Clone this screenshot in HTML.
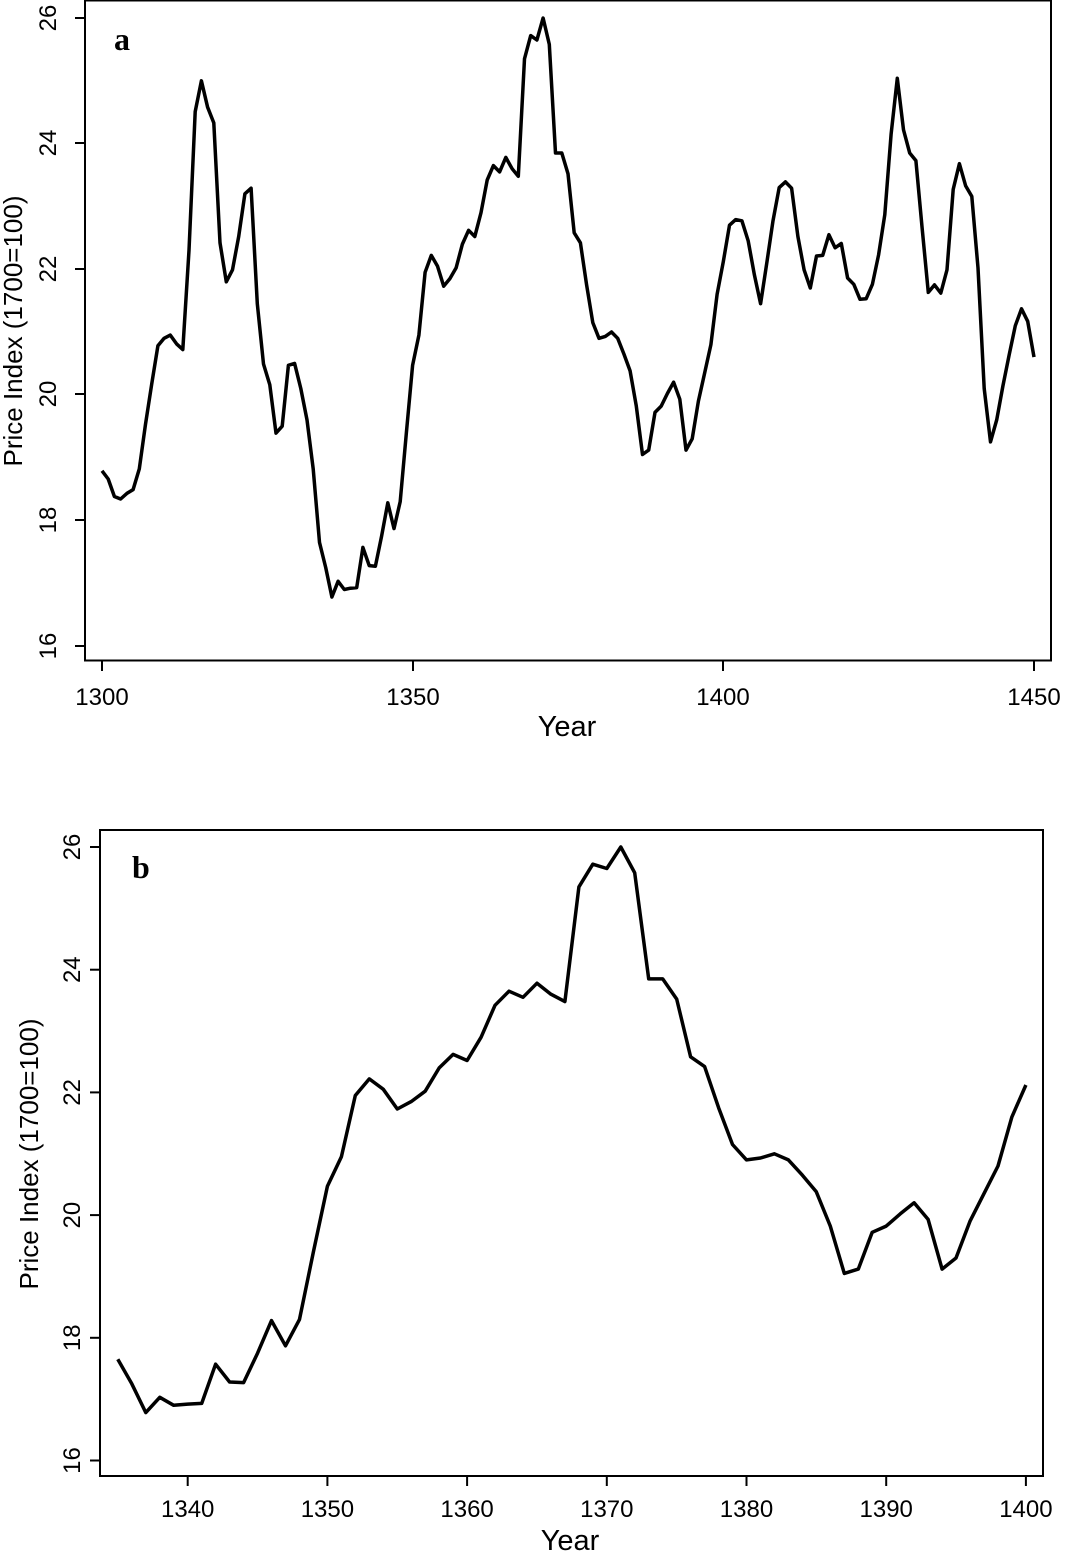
<!DOCTYPE html>
<html><head><meta charset="utf-8"><style>
html,body{margin:0;padding:0;background:#fff;}
svg{display:block;font-family:"Liberation Sans",Arial,sans-serif;}
</style></head><body>
<svg id="s" width="1065" height="1553" viewBox="0 0 1065 1553" xmlns="http://www.w3.org/2000/svg">
<!-- Panel a -->
<rect x="85" y="0.5" width="966" height="660" fill="none" stroke="#000" stroke-width="2"/>
<text x="114" y="50" font-family="Liberation Serif,serif" font-weight="bold" font-size="32">a</text>
<g stroke="#000" stroke-width="2">
<line x1="85" x2="75" y1="18" y2="18"/><line x1="85" x2="75" y1="143" y2="143"/><line x1="85" x2="75" y1="269" y2="269"/>
<line x1="85" x2="75" y1="394" y2="394"/><line x1="85" x2="75" y1="520" y2="520"/><line x1="85" x2="75" y1="646" y2="646"/>
<line x1="102" x2="102" y1="661" y2="671"/><line x1="413" x2="413" y1="661" y2="671"/><line x1="723" x2="723" y1="661" y2="671"/><line x1="1034" x2="1034" y1="661" y2="671"/>
</g>
<g font-size="24" text-anchor="middle">
<text transform="translate(56,18) rotate(-90)">26</text>
<text transform="translate(56,143) rotate(-90)">24</text>
<text transform="translate(56,269) rotate(-90)">22</text>
<text transform="translate(56,394) rotate(-90)">20</text>
<text transform="translate(56,520) rotate(-90)">18</text>
<text transform="translate(56,646) rotate(-90)">16</text>
<text x="102" y="705">1300</text><text x="413" y="705">1350</text><text x="723" y="705">1400</text><text x="1034" y="705">1450</text>
<text x="567" y="736" font-size="29">Year</text>
<text transform="translate(22,331) rotate(-90)" font-size="26">Price Index (1700=100)</text>
</g>
<polyline id="pa" fill="none" stroke="#000" stroke-width="3.5" stroke-linejoin="round"/>
<!-- Panel b -->
<rect x="100" y="830" width="943" height="646" fill="none" stroke="#000" stroke-width="2"/>
<text x="132" y="878" font-family="Liberation Serif,serif" font-weight="bold" font-size="32">b</text>
<g id="tb" stroke="#000" stroke-width="2"></g>
<g id="lb" font-size="24" text-anchor="middle"></g>
<g font-size="26" text-anchor="middle">
<text x="570" y="1550" font-size="29">Year</text>
<text transform="translate(38,1154) rotate(-90)">Price Index (1700=100)</text>
</g>
<polyline id="pb" fill="none" stroke="#000" stroke-width="3.5" stroke-linejoin="round"/>
</svg>
<script>
var A1=[18.79,18.66,18.38,18.34,18.43,18.49,18.82,19.53,20.17,20.78,20.9,20.95,20.81,20.72,22.3,24.51,25.0,24.58,24.33,22.42,21.8,21.99,22.52,23.2,23.29,21.45,20.49,20.16,19.39,19.5,20.47,20.5,20.1,19.6,18.82];
var B=[17.65,17.25,16.78,17.03,16.9,16.92,16.93,17.57,17.28,17.27,17.75,18.28,17.87,18.3,19.4,20.47,20.95,21.95,22.22,22.05,21.73,21.85,22.02,22.4,22.62,22.52,22.9,23.42,23.65,23.55,23.78,23.6,23.48,25.35,25.72,25.65,26.0,25.58,23.85,23.85,23.52,22.58,22.42,21.75,21.15,20.9,20.93,21.0,20.9,20.65,20.38,19.82,19.05,19.12,19.72,19.82,20.02,20.2,19.93,19.12,19.3,19.9,20.35,20.8,21.6,22.12];
var A3=[22.7,22.79,22.77,22.45,21.91,21.45,22.1,22.77,23.3,23.39,23.29,22.52,21.99,21.7,22.21,22.22,22.55,22.34,22.41,21.86,21.76,21.52,21.53,21.76,22.23,22.87,24.15,25.04,24.22,23.85,23.73,22.66,21.63,21.75,21.62,21.99,23.27,23.68,23.33,23.16,22.02,20.1,19.25,19.6,20.14,20.63,21.1,21.37,21.17,20.6];
var A=A1.concat(B).concat(A3);
var p=[];for(var i=0;i<A.length;i++){p.push((102+i*6.213).toFixed(1)+","+(646-(A[i]-16)*62.8).toFixed(1));}
document.getElementById("pa").setAttribute("points",p.join(" "));
var X0=187.7,DX=13.97,Y0=1460.5,DY=61.35;
var q=[];for(var i=0;i<B.length;i++){var yr=1335+i;q.push((X0+(yr-1340)*DX).toFixed(1)+","+(Y0-(B[i]-16)*DY).toFixed(1));}
document.getElementById("pb").setAttribute("points",q.join(" "));
var tb="",lb="";
for(var v=16;v<=26;v+=2){var y=Y0-(v-16)*DY;tb+='<line x1="100" x2="90" y1="'+y+'" y2="'+y+'"/>';lb+='<text transform="translate(80,'+y+') rotate(-90)">'+v+'</text>';}
for(var yr=1340;yr<=1400;yr+=10){var x=X0+(yr-1340)*DX;tb+='<line x1="'+x+'" x2="'+x+'" y1="1476" y2="1486"/>';lb+='<text x="'+x+'" y="1517">'+yr+'</text>';}
document.getElementById("tb").innerHTML=tb;document.getElementById("lb").innerHTML=lb;
</script>
</body></html>
